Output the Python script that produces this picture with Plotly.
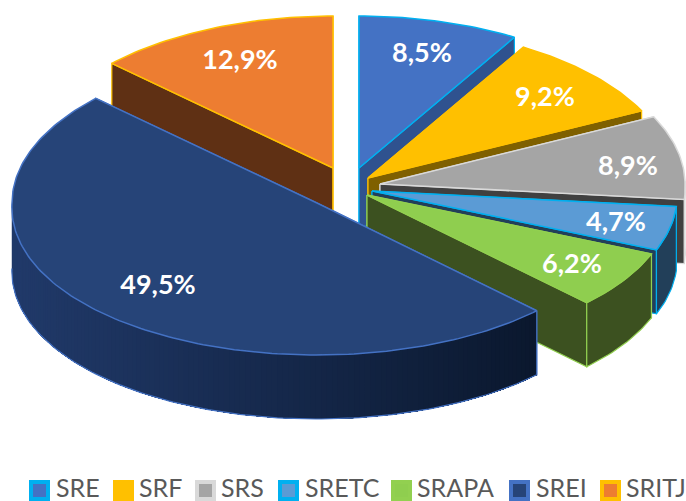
import math
import plotly.graph_objects as go

categories = ["SRE", "SRF", "SRS", "SRETC", "SRAPA", "SREI", "SRITJ"]
values = [8.5, 9.2, 8.9, 4.7, 6.2, 49.5, 12.9]
labels = ["8,5%", "9,2%", "8,9%", "4,7%", "6,2%", "49,5%", "12,9%"]

# style
top_colors = ["#4472C4", "#FFC000", "#A5A5A5", "#5B9BD5", "#8FCE4F", "#264478", "#ED7D31"]
line_colors = ["#00B0F0", "#FFC000", "#D9D9D9", "#00B0F0", "#92D050", "#4472C4", "#FFC000"]
wall_colors = ["#2F528F", "#7F6000", "#404040", "#223F59", "#3C5120", None, "#5F3014"]

# projection of the 3-D pie
CX, CY, RX, RY, DEPTH, PERSPECTIVE = 345, 190, 305, 152, 64, 0.03
explode_x = [14, 23, 35, 27, 22, -28, -12]
explode_y = [-22, -12, -6, 1, 5, 13, -22]
label_x = [422, 545, 628, 616, 572, 158, 240]
label_y = [55, 99, 168, 224, 266, 287, 62]
legend_marker_x = [39.5, 123.5, 205.5, 288.5, 401.5, 519.5, 610.5]
legend_text_x = [56, 139, 221, 305, 417, 536, 626]
LEGEND_Y = 490.5

fig = go.Figure()


def poly(xs, ys, fill, line, width=1.2):
    fig.add_trace(go.Scatter(x=xs + xs[:1], y=ys + ys[:1], mode="lines", fill="toself",
                             fillcolor=fill, line=dict(color=line, width=width),
                             hoverinfo="skip", showlegend=False))


def mix(a, b, t):
    return "rgb(%d,%d,%d)" % tuple(a[i] + (b[i] - a[i]) * t for i in range(3))


# angular extents from the values
total = sum(values)
spans = []
acc = 0.0
for v in values:
    spans.append((acc, acc + v / total * 360))
    acc += v / total * 360


def slice_parts(i):
    a0, a1 = spans[i]
    cx, cy = CX + explode_x[i], CY + explode_y[i]
    n = max(4, int(a1 - a0))
    angs = [math.radians(a0 + (a1 - a0) * k / n) for k in range(n + 1)]
    ax = [cx + RX * math.sin(t) * (1 + PERSPECTIVE * max(0.0, -math.cos(t))) for t in angs]
    ay = [cy - RY * math.cos(t) for t in angs]
    return cx, cy, ax, ay, [a0 + (a1 - a0) * k / n for k in range(n + 1)]


def draw_slice(i):
    cx, cy, ax, ay, deg = slice_parts(i)
    lc = line_colors[i]
    wc = wall_colors[i]
    # radial walls
    for px, py in ((ax[0], ay[0]), (ax[-1], ay[-1])):
        c = wc if wc else "#0F1F3C"
        poly([cx, px, px, cx], [cy, py, py + DEPTH, cy + DEPTH], c, lc)
    # outer wall: only the part that faces the viewer
    idx = [k for k, d in enumerate(deg) if 90 <= d <= 270]
    if (deg[0] < 90 < deg[-1]):
        idx = [k for k, d in enumerate(deg) if d >= 88 and d <= 272]
    fx = [ax[k] for k in idx]
    fy = [ay[k] for k in idx]
    if fx:
        if wc:
            poly(fx + fx[::-1], fy + [y + DEPTH for y in fy[::-1]], wc, lc)
        else:
            # big slice: horizontal shading of the front wall, painted from the left
            lo, hi = min(fx), max(fx)
            for k in range(len(fx) - 1, -1, -1):
                t = (fx[k] - lo) / (hi - lo)
                c = mix((33, 58, 106), (11, 24, 46), t)
                xs = fx[:k + 1]
                ys = fy[:k + 1]
                fig.add_trace(go.Scatter(x=xs + xs[::-1] + xs[:1],
                                         y=ys + [y + DEPTH for y in ys[::-1]] + ys[:1],
                                         mode="lines", fill="toself", fillcolor=c,
                                         line=dict(width=0), hoverinfo="skip", showlegend=False))
            fig.add_trace(go.Scatter(x=fx, y=[y + DEPTH for y in fy], mode="lines",
                                     line=dict(color=lc, width=1.2), hoverinfo="skip", showlegend=False))
            fig.add_trace(go.Scatter(x=[fx[0], fx[0]], y=[fy[0], fy[0] + DEPTH], mode="lines",
                                     line=dict(color=lc, width=1.2), hoverinfo="skip", showlegend=False))
    # top face
    poly([cx] + ax, [cy] + ay, top_colors[i], lc, 1.5)


for i in [6, 0, 1, 2, 3, 4, 5]:
    draw_slice(i)

# value labels
fig.add_trace(go.Scatter(x=label_x, y=label_y, mode="text", text=labels,
                         textfont=dict(family="Lato", size=27, color="white", weight="bold"),
                         hoverinfo="skip", showlegend=False))

# legend
fig.add_trace(go.Scatter(x=legend_marker_x, y=[LEGEND_Y] * 7, mode="markers",
                         marker=dict(symbol="square", size=17, color=top_colors,
                                     line=dict(color=line_colors, width=4)),
                         hoverinfo="skip", showlegend=False, cliponaxis=False))
fig.add_trace(go.Scatter(x=legend_text_x, y=[LEGEND_Y] * 7, mode="text", text=categories,
                         textposition="middle right",
                         textfont=dict(family="Lato", size=25, color="#595959"),
                         hoverinfo="skip", showlegend=False, cliponaxis=False))

fig.update_layout(width=686, height=501, margin=dict(l=0, r=0, t=0, b=0),
                  paper_bgcolor="white", plot_bgcolor="white",
                  xaxis=dict(range=[0, 686], visible=False, fixedrange=True),
                  yaxis=dict(range=[501, 0], visible=False, fixedrange=True))
fig.write_html("out.html", post_script="document.body.style.margin='0';",
               config=dict(displayModeBar=False))
